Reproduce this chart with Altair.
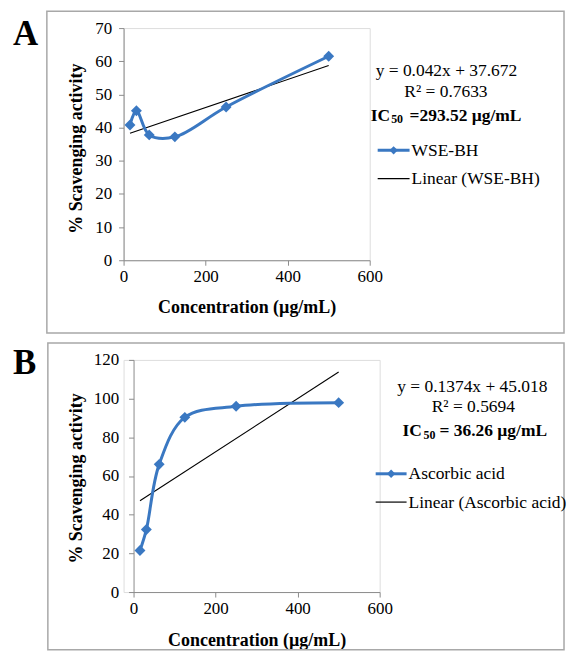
import altair as alt
import pandas as pd

# ---------------- data ----------------
conc = [15.625, 31.25, 62.5, 125, 250, 500]
wse_bh = [40.8, 45.1, 37.8, 37.2, 46.2, 61.5]
ascorbic = [21.5, 32.3, 66.0, 90.3, 96.0, 97.9]

trend_x = [15.625, 500]
trend_wse = [38.3, 58.7]
trend_asc = [47.2, 113.7]

x_ticks = [0, 200, 400, 600]
a_ticks = [0, 10, 20, 30, 40, 50, 60, 70]
b_ticks = [0, 20, 40, 60, 80, 100, 120]

a_label = "A"
b_label = "B"
a_eq = ["y = 0.042x + 37.672", "R² = 0.7633"]
a_ic = ["IC", "50", "=293.52 µg/mL"]
b_eq = ["y = 0.1374x + 45.018", "R² = 0.5694"]
b_ic = ["IC", "50", "= 36.26 µg/mL"]
a_leg = ["WSE-BH", "Linear (WSE-BH)"]
b_leg = ["Ascorbic acid", "Linear (Ascorbic acid)"]
x_title = "Concentration (µg/mL)"
y_title = "% Scavenging activity"

BLUE = "#3A78C2"
GRAY = "#8C8C8C"
FONT = "Liberation Serif"


def txt(s, x, y, size=17.5, bold=False, align="left", baseline="alphabetic"):
    return alt.Chart(pd.DataFrame({"t": [s]})).mark_text(
        align=align, baseline=baseline, fontSize=size,
        fontWeight="bold" if bold else "normal", font=FONT, color="black"
    ).encode(text="t:N", x=alt.value(x), y=alt.value(y))


def panel(vals, tvals, ymax, yticks, width, xrange, yoff, ylabpad, xlabpad, xtitley,
          ytitlex, ytitley, label, label_y, eq, eq_x, eq_y, ic, ic_x, ic_y,
          leg, leg_x, leg_y, box):
    df = pd.DataFrame({"x": conc, "y": vals})
    tdf = pd.DataFrame({"x": trend_x, "y": tvals})
    xs = alt.Scale(domain=[0, 600], range=xrange, nice=False)
    ys = alt.Scale(domain=[0, ymax], nice=False)
    xaxis = alt.Axis(values=x_ticks, title=x_title, grid=False, domainColor=GRAY,
                     tickColor=GRAY, tickSize=5, labelPadding=xlabpad, labelFontSize=17,
                     labelFont=FONT, labelColor="black", titleFont=FONT,
                     labelOverlap=False, labelFlush=False,
                     titleFontSize=18, titleFontWeight="bold", titleColor="black",
                     titleX=(xrange[0] + xrange[1]) / 2, titleY=xtitley, titleBaseline="top")
    yaxis = alt.Axis(values=yticks, tickCount=len(yticks), title=y_title, grid=False,
                     domainColor=GRAY, tickColor=GRAY, tickSize=5, labelPadding=ylabpad,
                     labelFontSize=17, labelFont=FONT, labelColor="black", titleFont=FONT,
                     labelOverlap=False, labelFlush=False, labelSeparation=0,
                     titleFontSize=18, titleFontWeight="bold", titleColor="black",
                     offset=yoff, titleX=ytitlex, titleY=ytitley)
    X = alt.X("x:Q", scale=xs, axis=xaxis)
    Y = alt.Y("y:Q", scale=ys, axis=yaxis)
    base = alt.Chart(df)
    line = base.mark_line(interpolate="catmull-rom", strokeWidth=3, color=BLUE).encode(x=X, y=Y)
    pts = base.mark_point(shape="diamond", filled=True, size=120, color=BLUE,
                          opacity=1).encode(x=X, y=Y)
    trend = alt.Chart(tdf).mark_line(color="black", strokeWidth=1.1).encode(x=X, y=Y)

    one = pd.DataFrame({"a": [0]})
    border = alt.Chart(one).mark_rect(filled=False, stroke="#A8A8A8", strokeWidth=1.5).encode(
        x=alt.value(box[0]), x2=alt.value(box[1]), y=alt.value(box[2]), y2=alt.value(box[3]))

    layers = [border, trend, line, pts,
              txt(label, -111, label_y, size=35, bold=True),
              txt(eq[0], eq_x[0], eq_y[0], align="center"),
              txt(eq[1], eq_x[1], eq_y[1], align="center"),
              txt(ic[0], ic_x[0], ic_y, bold=True),
              txt(ic[1], ic_x[1], ic_y + 2.5, size=12, bold=True),
              txt(ic[2], ic_x[2], ic_y, bold=True)]
    # legend
    lx0, lx1, tx = leg_x
    y1, y2 = leg_y
    layers.append(alt.Chart(one).mark_rule(color=BLUE, strokeWidth=3).encode(
        x=alt.value(lx0), x2=alt.value(lx1), y=alt.value(y1)))
    layers.append(alt.Chart(one).mark_point(shape="diamond", filled=True, size=70,
                                            color=BLUE, opacity=1).encode(
        x=alt.value((lx0 + lx1) / 2), y=alt.value(y1)))
    layers.append(txt(leg[0], tx, y1 + 5.5))
    layers.append(alt.Chart(one).mark_rule(color="black", strokeWidth=1.2).encode(
        x=alt.value(lx0), x2=alt.value(lx1), y=alt.value(y2)))
    layers.append(txt(leg[1], tx, y2 + 5.5))

    return alt.layer(*layers).properties(width=width, height=233)


pa = panel(wse_bh, trend_wse, 70, a_ticks, 247, [0, 247], 0, 7, 3, 38,
           -38, 120.5, a_label, 17, a_eq, [324, 323.5], [48.5, 69],
           a_ic, [248, 268.5, 287], 93, a_leg, [255, 287, 289], [122.7, 151],
           [-77, 442, -17, 306])

pb = panel(ascorbic, trend_asc, 120, b_ticks, 257, [10, 257], -10, 10, 4, 40,
           -48, 118.5, b_label, 14, b_eq, [350, 351], [32, 52.5],
           b_ic, [280, 301, 317], 76.5, b_leg, [253, 284, 286], [114.3, 142.7],
           [-76, 442, -17, 291])

chart = alt.vconcat(pa, pb, spacing=6).properties(
    padding={"top": 0, "left": 4, "right": 0, "bottom": 0}
).configure_view(stroke=None).configure(background="white")

chart.save("out.html", embed_options={"renderer": "svg", "actions": False})
